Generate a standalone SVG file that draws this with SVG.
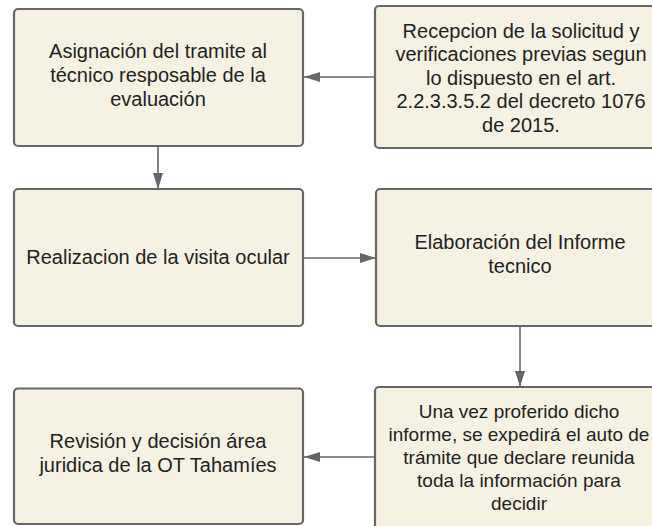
<svg xmlns="http://www.w3.org/2000/svg" width="652" height="526" viewBox="0 0 652 526">
<defs>
<style>
.box{fill:#f5f2e3;stroke:#666666;stroke-width:2.2}
.t{font-family:"Liberation Sans",Arial,sans-serif;font-size:20px;fill:#222222;text-anchor:middle}
.s{font-size:19px}
.c{stroke:#666666;stroke-width:1.6;fill:none}
</style>
<marker id="ah" viewBox="0 0 16 10" refX="16" refY="5" markerWidth="16" markerHeight="10" markerUnits="userSpaceOnUse" orient="auto">
<path d="M0,0 L16,5 L0,10 Z" fill="#666666"/>
</marker>
</defs>
<rect width="652" height="526" fill="#ffffff"/>
<g id="connectors">
<line class="c" x1="375" y1="77" x2="304" y2="77" marker-end="url(#ah)"/>
<line class="c" x1="158" y1="146" x2="158" y2="189" marker-end="url(#ah)"/>
<line class="c" x1="303" y1="258" x2="376" y2="258" marker-end="url(#ah)"/>
<line class="c" x1="520" y1="326" x2="520" y2="387" marker-end="url(#ah)"/>
<line class="c" x1="375" y1="457" x2="304" y2="457" marker-end="url(#ah)"/>
</g>
<g id="n1">
<rect class="box" x="14" y="9" width="289" height="137" rx="4"/>
<text class="t" x="158" y="58">Asignación del tramite al</text>
<text class="t" x="158" y="82">técnico resposable de la</text>
<text class="t" x="158" y="106">evaluación</text>
</g>
<g id="n2">
<rect class="box" x="375" y="6" width="290" height="142" rx="4"/>
<text class="t" x="521" y="37.5">Recepcion de la solicitud y</text>
<text class="t" x="521" y="61">verificaciones previas segun</text>
<text class="t" x="521" y="84.5">lo dispuesto en el art.</text>
<text class="t" x="521" y="108">2.2.3.3.5.2 del decreto 1076</text>
<text class="t" x="521" y="131.5">de 2015.</text>
</g>
<g id="n3">
<rect class="box" x="14" y="189" width="289" height="137" rx="4"/>
<text class="t" x="158" y="263.5">Realizacion de la visita ocular</text>
</g>
<g id="n4">
<rect class="box" x="376" y="189" width="290" height="137" rx="4"/>
<text class="t" x="520" y="248.5">Elaboración del Informe</text>
<text class="t" x="520" y="272.5">tecnico</text>
</g>
<g id="n5">
<rect class="box" x="375" y="387" width="290" height="150" rx="4"/>
<text class="t s" x="519" y="418">Una vez proferido dicho</text>
<text class="t s" x="519" y="441">informe, se expedirá el auto de</text>
<text class="t s" x="519" y="464">trámite que declare reunida</text>
<text class="t s" x="519" y="487">toda la información para</text>
<text class="t s" x="519" y="510">decidir</text>
</g>
<g id="n6">
<rect class="box" x="14" y="388.5" width="289" height="135.5" rx="4"/>
<text class="t" x="158" y="448">Revisión y decisión área</text>
<text class="t" x="158" y="472">juridica de la OT Tahamíes</text>
</g>
</svg>
